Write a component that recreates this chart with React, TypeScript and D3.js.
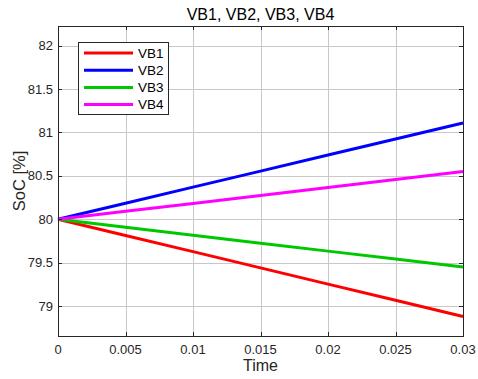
import React, { useEffect, useRef } from 'react';
import * as d3 from 'd3';

const times = [0, 0.005, 0.01, 0.015, 0.02, 0.025, 0.03];
const vb1 = [80, 79.813, 79.627, 79.44, 79.253, 79.067, 78.88];
const vb2 = [80, 80.185, 80.37, 80.555, 80.74, 80.925, 81.11];
const vb3 = [80, 79.908, 79.817, 79.725, 79.633, 79.542, 79.45];
const vb4 = [80, 80.092, 80.183, 80.275, 80.367, 80.458, 80.55];
const seriesNames = ['VB1', 'VB2', 'VB3', 'VB4'];
const seriesColors = ['#ff0000', '#0000ff', '#00c800', '#ff00ff'];
const xTicks = [0, 0.005, 0.01, 0.015, 0.02, 0.025, 0.03];
const yTicks = [79, 79.5, 80, 80.5, 81, 81.5, 82];

const App = () => {
  const svgRef = useRef<SVGSVGElement>(null);

  useEffect(() => {
    const svg = d3.select(svgRef.current);
    svg.selectAll('*').remove();

    const width = 478;
    const height = 379;
    const m = { left: 58, right: 15, top: 26, bottom: 43 };
    const iw = width - m.left - m.right;
    const ih = height - m.top - m.bottom;
    const font = 'Liberation Sans, Arial, sans-serif';
    const axisColor = '#262626';

    const x = d3.scaleLinear().domain([0, 0.03]).range([m.left, m.left + iw]);
    const y = d3.scaleLinear().domain([78.655, 82.227]).range([m.top + ih, m.top]);

    svg.append('rect')
      .attr('x', m.left).attr('y', m.top).attr('width', iw).attr('height', ih)
      .attr('fill', '#fff');

    // grid
    const grid = svg.append('g').attr('stroke', '#c8c8c8').attr('stroke-width', 1);
    xTicks.forEach(t => {
      grid.append('line')
        .attr('x1', Math.round(x(t)) + 0.5).attr('x2', Math.round(x(t)) + 0.5)
        .attr('y1', m.top).attr('y2', m.top + ih);
    });
    yTicks.forEach(t => {
      grid.append('line')
        .attr('y1', Math.round(y(t)) + 0.5).attr('y2', Math.round(y(t)) + 0.5)
        .attr('x1', m.left).attr('x2', m.left + iw);
    });

    // series
    const data = [vb1, vb2, vb3, vb4];
    const line = d3.line<number>()
      .x((d, i) => x(times[i]))
      .y(d => y(d));
    data.forEach((vals, k) => {
      svg.append('path')
        .datum(vals)
        .attr('d', line)
        .attr('fill', 'none')
        .attr('stroke', seriesColors[k])
        .attr('stroke-width', 3);
    });

    // box + ticks
    svg.append('rect')
      .attr('x', m.left + 0.5).attr('y', m.top + 0.5).attr('width', iw).attr('height', ih)
      .attr('fill', 'none').attr('stroke', axisColor).attr('stroke-width', 1);

    const tickLen = 4;
    const ticks = svg.append('g').attr('stroke', axisColor).attr('stroke-width', 1);
    xTicks.forEach(t => {
      const px = Math.round(x(t)) + 0.5;
      ticks.append('line').attr('x1', px).attr('x2', px).attr('y1', m.top + ih).attr('y2', m.top + ih - tickLen);
      ticks.append('line').attr('x1', px).attr('x2', px).attr('y1', m.top).attr('y2', m.top + tickLen);
    });
    yTicks.forEach(t => {
      const py = Math.round(y(t)) + 0.5;
      ticks.append('line').attr('y1', py).attr('y2', py).attr('x1', m.left).attr('x2', m.left + tickLen);
      ticks.append('line').attr('y1', py).attr('y2', py).attr('x1', m.left + iw).attr('x2', m.left + iw - tickLen);
    });

    svg.selectAll('.xt')
      .data(xTicks)
      .enter()
      .append('text')
      .attr('x', d => x(d))
      .attr('y', m.top + ih + 18)
      .attr('text-anchor', 'middle')
      .attr('font-family', font)
      .attr('font-size', 13)
      .attr('fill', axisColor)
      .text(d => String(d));

    svg.selectAll('.yt')
      .data(yTicks)
      .enter()
      .append('text')
      .attr('x', m.left - 5)
      .attr('y', d => y(d))
      .attr('dy', '0.35em')
      .attr('text-anchor', 'end')
      .attr('font-family', font)
      .attr('font-size', 13)
      .attr('fill', axisColor)
      .text(d => String(d));

    // labels
    svg.append('text')
      .attr('x', m.left + iw / 2)
      .attr('y', 20)
      .attr('text-anchor', 'middle')
      .attr('font-family', font)
      .attr('font-size', 16)
      .attr('fill', '#000')
      .text('VB1, VB2, VB3, VB4');

    svg.append('text')
      .attr('x', m.left + iw / 2)
      .attr('y', 371)
      .attr('text-anchor', 'middle')
      .attr('font-family', font)
      .attr('font-size', 16)
      .attr('fill', axisColor)
      .text('Time');

    svg.append('text')
      .attr('transform', `translate(25, ${m.top + ih / 2}) rotate(-90)`)
      .attr('text-anchor', 'middle')
      .attr('font-family', font)
      .attr('font-size', 16.5)
      .attr('fill', axisColor)
      .text('SoC [%]');

    // legend
    const lg = svg.append('g').attr('transform', 'translate(78, 42)');
    lg.append('rect')
      .attr('x', 0.5).attr('y', 0.5).attr('width', 90).attr('height', 72)
      .attr('fill', '#fff').attr('stroke', axisColor).attr('stroke-width', 1);
    seriesNames.forEach((name, i) => {
      const ry = 11 + i * 17.2;
      lg.append('line')
        .attr('x1', 6).attr('x2', 55).attr('y1', ry).attr('y2', ry)
        .attr('stroke', seriesColors[i]).attr('stroke-width', 3);
      lg.append('text')
        .attr('x', 60).attr('y', ry).attr('dy', '0.35em')
        .attr('font-family', font).attr('font-size', 13.5)
        .attr('fill', '#000')
        .text(name);
    });
  }, []);

  return (
    <svg ref={svgRef} width={478} height={379}
      style={{ position: 'absolute', left: 0, top: 0, background: '#fff' }} />
  );
};

export default App;
